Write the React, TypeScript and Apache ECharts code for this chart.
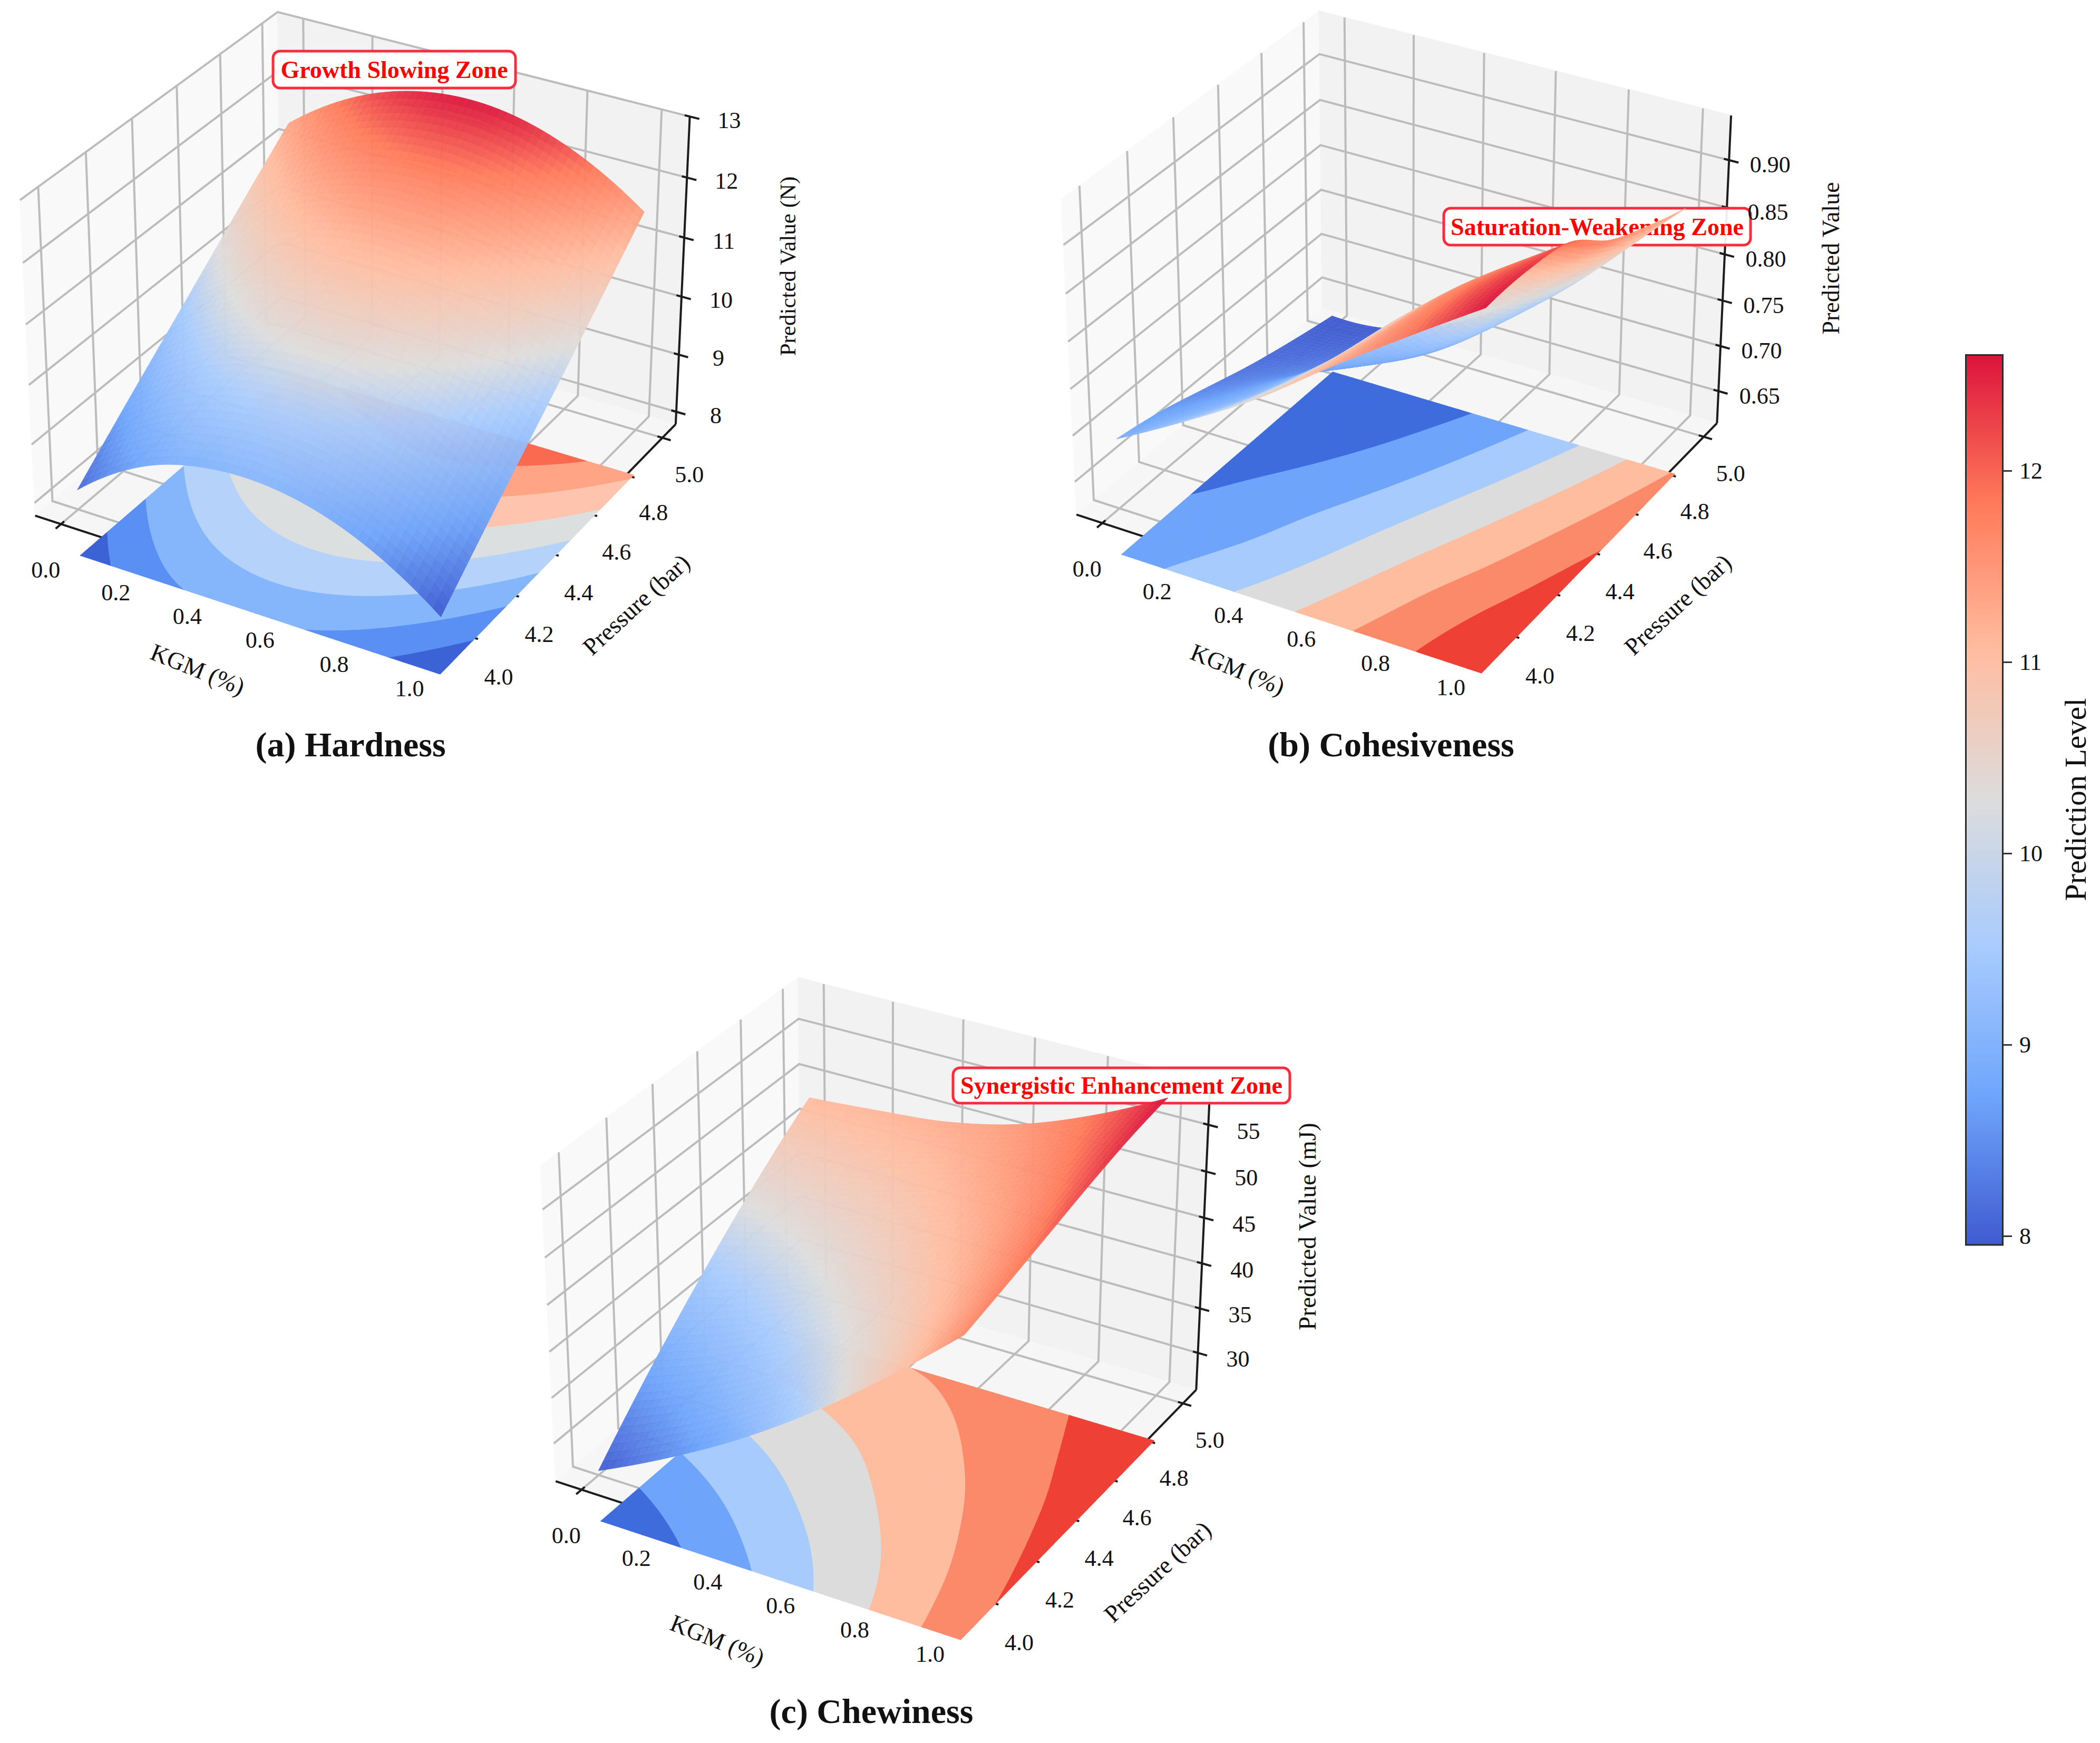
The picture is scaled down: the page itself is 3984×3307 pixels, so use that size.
import React, { useEffect, useRef } from "react";
import * as echarts from "echarts";

const kgmTicks = [0, 0.2, 0.4, 0.6, 0.8, 1];
const pressureTicks = [4, 4.2, 4.4, 4.6, 4.8, 5];
const colorbarTicks = [8, 9, 10, 11, 12];
const colorbarRange = [7.955, 12.61];
const hardnessTicks = [8, 9, 10, 11, 12, 13];
const cohesivenessTicks = [0.65, 0.7, 0.75, 0.8, 0.85, 0.9];
const chewinessTicks = [30, 35, 40, 45, 50, 55];

// rows: pressure 4.0 -> 5.0, columns: KGM 0 -> 1
const hardnessValues = [
  [8.12, 8.91, 9.22, 9.16, 8.74, 7.95],
  [8.8, 9.56, 9.89, 9.85, 9.44, 8.67],
  [9.46, 10.22, 10.57, 10.54, 10.15, 9.38],
  [10.12, 10.86, 11.22, 11.21, 10.83, 10.08],
  [10.78, 11.52, 11.89, 11.9, 11.53, 10.8],
  [11.42, 12.18, 12.56, 12.58, 12.23, 11.52],
];
const cohesivenessValues = [
  [0.69, 0.733, 0.78, 0.836, 0.889, 0.94],
  [0.68, 0.712, 0.765, 0.83, 0.895, 0.94],
  [0.665, 0.695, 0.746, 0.815, 0.875, 0.93],
  [0.65, 0.668, 0.7, 0.75, 0.825, 0.895],
  [0.638, 0.648, 0.672, 0.725, 0.79, 0.873],
  [0.628, 0.635, 0.668, 0.722, 0.784, 0.855],
];
const cohesivenessFloor = [
  [0.69, 0.733, 0.78, 0.836, 0.889, 0.94],
  [0.68, 0.71, 0.757, 0.815, 0.875, 0.93],
  [0.665, 0.693, 0.736, 0.793, 0.852, 0.915],
  [0.65, 0.672, 0.713, 0.769, 0.83, 0.895],
  [0.638, 0.652, 0.69, 0.745, 0.807, 0.875],
  [0.628, 0.635, 0.668, 0.722, 0.784, 0.855],
];
const cohesivenessTone = [
  [0.7, 0.75, 0.8, 0.855, 0.9, 0.94],
  [0.68, 0.72, 0.77, 0.83, 0.885, 0.93],
  [0.66, 0.69, 0.735, 0.79, 0.85, 0.91],
  [0.645, 0.665, 0.7, 0.75, 0.81, 0.89],
  [0.635, 0.645, 0.672, 0.715, 0.775, 0.87],
  [0.628, 0.632, 0.65, 0.69, 0.75, 0.855],
];
const chewinessValues = [
  [26.3, 30.2, 34.7, 40.0, 46.1, 52.8],
  [31.6, 34.8, 38.7, 43.0, 47.9, 54.0],
  [36.4, 39.0, 42.2, 45.7, 49.8, 55.3],
  [40.8, 42.7, 45.0, 47.9, 51.5, 56.6],
  [44.8, 46.0, 47.6, 49.9, 53.2, 57.7],
  [48.3, 48.9, 49.7, 51.5, 54.5, 58.4],
];

const hardnessBands = ["#3b63d6", "#5a8ff3", "#85b6fc", "#b5d3fa", "#dcdfdf", "#ffc4ad", "#ffa585", "#f96a50"];
const sevenBands = ["#3f6cdd", "#6ea5fb", "#a8cbfd", "#dcdcdc", "#ffbda0", "#fb8a6a", "#ee4035"];
const rampStops = ["#3f5bd0", "#6ea5fb", "#a8cbfd", "#dcdcdc", "#ffbda0", "#ff7a5a", "#dc143c"];
const barOffsets = [0, 1 / 6, 2 / 6, 3 / 6, 4 / 6, 5 / 6, 1];
const surfaceOffsets = [0, 0.19, 0.39, 0.5, 0.68, 0.87, 1];

const SERIF = "'Liberation Serif', 'Times New Roman', serif";
const SCALE = 7640;
const MARGIN = 0.065;
const FLOOR = -0.154;
const MESH = 50;

const panels: any[] = [
  {
    ax: 685.5, ay: 601, zMin: 7.78, zMax: 13, grid: hardnessValues, zTicks: hardnessTicks, zFmt: (v: number) => String(v),
    bands: hardnessBands, zOff: [75, 7],
    title: "(a) Hardness", titlePos: [665, 1412],
    note: "Growth Slowing Zone", noteBox: [518, 97, 978, 167],
    zName: "Predicted Value (N)", zNamePos: [1494, 505], zNameSize: 43, kgmPos: [375, 1270], presPos: [1207, 1147],
  },
  {
    ax: 2661, ay: 599, zMin: 0.614, zMax: 0.9465, grid: cohesivenessValues, floorGrid: cohesivenessFloor, toneGrid: cohesivenessTone,
    zTicks: cohesivenessTicks, zFmt: (v: number) => v.toFixed(2),
    bands: sevenBands, zOff: [78, 9],
    title: "(b) Cohesiveness", titlePos: [2639, 1412],
    note: "Saturation-Weakening Zone", noteBox: [2739, 395, 3321, 465],
    zName: "Predicted Value", zNamePos: [3473, 490], zNameSize: 46, kgmPos: [2348, 1270], presPos: [3183, 1147],
  },
  {
    ax: 1673, ay: 2433, zMin: 25.8, zMax: 59.5, grid: chewinessValues, zTicks: chewinessTicks, zFmt: (v: number) => String(v),
    bands: sevenBands, zOff: [76, 12],
    title: "(c) Chewiness", titlePos: [1653, 3246],
    note: "Synergistic Enhancement Zone", noteBox: [1808, 2026, 2447, 2093],
    zName: "Predicted Value (mJ)", zNamePos: [2480, 2327], zNameSize: 47, kgmPos: [1361, 3112], presPos: [2196, 2982],
  },
];

type Pt = [number, number, number];

function hexRgb(h: string) {
  return [parseInt(h.slice(1, 3), 16), parseInt(h.slice(3, 5), 16), parseInt(h.slice(5, 7), 16)];
}
function ramp(t0: number) {
  const t = Math.max(0, Math.min(1, t0));
  let i = 0;
  while (i < surfaceOffsets.length - 2 && t > surfaceOffsets[i + 1]) i++;
  const a = hexRgb(rampStops[i]);
  const b = hexRgb(rampStops[i + 1]);
  const f = (t - surfaceOffsets[i]) / (surfaceOffsets[i + 1] - surfaceOffsets[i]);
  return `rgb(${[0, 1, 2].map((k) => Math.round(a[k] + (b[k] - a[k]) * f)).join(",")})`;
}

function project(p: any, q: Pt): [number, number] {
  const dx = 1.19 * (q[0] - 0.5);
  const dy = 1.19 * (q[1] - 0.5);
  const dz = 0.893 * (q[2] - 0.5);
  const X = 0.866 * dx + 0.5 * dy;
  const Y = -0.25 * dx + 0.433 * dy + 0.866 * dz;
  const d = 10 - (0.433 * dx - 0.75 * dy + 0.5 * dz);
  return [p.ax + (SCALE * X) / d, p.ay - (SCALE * Y) / d];
}
const boxX = (kgm: number) => MARGIN + kgm * (1 - 2 * MARGIN);
const boxY = (bar: number) => MARGIN + (bar - 4) * (1 - 2 * MARGIN);
const boxZ = (p: any, v: number) => (v - p.zMin) / (p.zMax - p.zMin);

// Catmull-Rom drawing spline through the tables
function spline(a: number[], u: number) {
  const n = a.length;
  const at = (k: number) =>
    k < 0 ? 3 * a[0] - 3 * a[1] + a[2] : k >= n ? 3 * a[n - 1] - 3 * a[n - 2] + a[n - 3] : a[k];
  const i = Math.min(n - 2, Math.floor(u));
  const t = u - i;
  const p0 = at(i - 1), p1 = at(i), p2 = at(i + 1), p3 = at(i + 2);
  return 0.5 * (2 * p1 + (p2 - p0) * t + (2 * p0 - 5 * p1 + 4 * p2 - p3) * t * t + (3 * p1 - p0 - 3 * p2 + p3) * t * t * t);
}
function meshOf(grid: number[][]) {
  const out: number[][] = [];
  for (let j = 0; j <= MESH; j++) {
    const v = (j / MESH) * 5;
    const row: number[] = [];
    for (let i = 0; i <= MESH; i++) {
      const u = (i / MESH) * 5;
      row.push(spline(grid.map((r) => spline(r, u)), v));
    }
    out.push(row);
  }
  return out;
}
function rangeOf(S: number[][]) {
  let lo = Infinity, hi = -Infinity;
  S.forEach((r) => r.forEach((v) => { lo = Math.min(lo, v); hi = Math.max(hi, v); }));
  return [lo, hi];
}
function clip(poly: Pt[], level: number, above: boolean): Pt[] {
  const res: Pt[] = [];
  const inside = (q: Pt) => (above ? q[2] >= level : q[2] <= level);
  for (let k = 0; k < poly.length; k++) {
    const a = poly[k];
    const b = poly[(k + 1) % poly.length];
    if (inside(a)) res.push(a);
    if (inside(a) !== inside(b)) {
      const t = (level - a[2]) / (b[2] - a[2]);
      res.push([a[0] + (b[0] - a[0]) * t, a[1] + (b[1] - a[1]) * t, level]);
    }
  }
  return res;
}

function layer(z: number, items: any[], build: (it: any, c: (q: number[]) => number[]) => any) {
  return {
    type: "custom",
    coordinateSystem: "cartesian2d",
    xAxisIndex: 0,
    yAxisIndex: 0,
    z,
    silent: true,
    progressive: 0,
    clip: false,
    data: items.map((_, k) => [k, 0]),
    renderItem: (params: any, api: any) => build(items[params.dataIndex], (q) => api.coord(q)),
  };
}
function label(text: string, c: number[], size: number, rotation = 0, weight = "normal", fill = "#111") {
  return {
    type: "text",
    x: c[0],
    y: c[1],
    rotation,
    style: { text, fontFamily: SERIF, fontSize: size, fontWeight: weight, fill, align: "center", verticalAlign: "middle" },
  };
}

function panelSeries(p: any) {
  const S = meshOf(p.grid);
  const F = meshOf(p.floorGrid || p.grid);
  const T = meshOf(p.toneGrid || p.grid);
  const [flo, fhi] = rangeOf(F);
  const [lo, hi] = rangeOf(T);

  const panes = [
    { color: "#f9f9f9", pts: [[0, 0, 0], [0, 1, 0], [0, 1, 1], [0, 0, 1]] },
    { color: "#f2f2f2", pts: [[0, 1, 0], [1, 1, 0], [1, 1, 1], [0, 1, 1]] },
    { color: "#f6f6f6", pts: [[0, 0, 0], [1, 0, 0], [1, 1, 0], [0, 1, 0]] },
  ];
  const zNs = p.zTicks.map((v: number) => boxZ(p, v));
  const gridLines: Pt[][] = [
    ...kgmTicks.map((v): Pt[] => [[boxX(v), 0, 0], [boxX(v), 1, 0], [boxX(v), 1, 1]]),
    ...pressureTicks.map((v): Pt[] => [[1, boxY(v), 0], [0, boxY(v), 0], [0, boxY(v), 1]]),
    ...zNs.map((n: number): Pt[] => [[0, 0, n], [0, 1, n], [1, 1, n]]),
  ];
  const axisLines: Pt[][] = [
    [[0, 0, 0], [1, 0, 0]],
    [[1, 0, 0], [1, 1, 0]],
    [[1, 1, 0], [1, 1, 1]],
    ...kgmTicks.map((v): Pt[] => [[boxX(v), -0.02, 0], [boxX(v), 0.012, 0]]),
    ...pressureTicks.map((v): Pt[] => [[1.02, boxY(v), 0], [0.988, boxY(v), 0]]),
    ...zNs.map((n: number): Pt[] => [[1.022, 1, n], [0.988, 1, n]]),
  ];

  const n = p.bands.length;
  const levels = p.bands.map((_: string, k: number) => flo + ((fhi - flo) * k) / n);
  levels.push(fhi + 1e-6);
  const bandPolys: Pt[][][] = p.bands.map(() => []);
  for (let j = 0; j < MESH; j++) {
    for (let i = 0; i < MESH; i++) {
      const a: Pt = [i, j, F[j][i]], b: Pt = [i + 1, j, F[j][i + 1]], c: Pt = [i + 1, j + 1, F[j + 1][i + 1]], d: Pt = [i, j + 1, F[j + 1][i]];
      for (const tri of [[a, b, c], [a, c, d]] as Pt[][]) {
        for (let k = 0; k < n; k++) {
          const poly = clip(clip(tri, levels[k], true), levels[k + 1], false);
          if (poly.length > 2) bandPolys[k].push(poly);
        }
      }
    }
  }
  const floor = bandPolys.map((polys, k) => ({ color: p.bands[k], polys }));

  const cells: any[] = [];
  for (let j = 0; j < MESH; j++) {
    for (let i = 0; i < MESH; i++) {
      const v = (S[j][i] + S[j][i + 1] + S[j + 1][i] + S[j + 1][i + 1]) / 4;
      const tone = (T[j][i] + T[j][i + 1] + T[j + 1][i] + T[j + 1][i + 1]) / 4;
      const corners: Pt[] = ([[i, j], [i + 1, j], [i + 1, j + 1], [i, j + 1]] as number[][]).map(
        ([a, b]): Pt => [boxX(a / MESH), boxY(4 + b / MESH), boxZ(p, S[b][a])]
      );
      const cx = boxX((i + 0.5) / MESH), cy = boxY(4 + (j + 0.5) / MESH), cz = boxZ(p, v);
      const depth = 10 - (0.433 * 1.19 * (cx - 0.5) - 0.75 * 1.19 * (cy - 0.5) + 0.5 * 0.893 * (cz - 0.5));
      cells.push({ corners, depth, color: ramp((tone - lo) / (hi - lo)) });
    }
  }
  cells.sort((a, b) => b.depth - a.depth);

  const ticksText = [
    ...kgmTicks.map((v) => {
      const q = project(p, [boxX(v), 0, 0]);
      return { text: v.toFixed(1), pos: [q[0] - 29, q[1] + 87] };
    }),
    ...pressureTicks.map((v) => {
      const q = project(p, [1, boxY(v), 0]);
      return { text: v.toFixed(1), pos: [q[0] + 51 + 5 * (5 - v), q[1] + 70 + 8 * (5 - v)] };
    }),
    ...p.zTicks.map((v: number) => {
      const q = project(p, [1, 1, boxZ(p, v)]);
      return { text: p.zFmt(v), pos: [q[0] + p.zOff[0], q[1] + p.zOff[1]] };
    }),
  ];
  const names = [
    { text: p.zName, pos: p.zNamePos, size: p.zNameSize, rot: Math.PI / 2, weight: "normal" },
    { text: "KGM (%)", pos: p.kgmPos, size: 46, rot: -0.384, weight: "normal" },
    { text: "Pressure (bar)", pos: p.presPos, size: 46, rot: 0.745, weight: "normal" },
    { text: p.title, pos: p.titlePos, size: 66, rot: 0, weight: "bold" },
  ];
  const line = (pts: Pt[], c: any) => pts.map((q) => c(project(p, q)));

  return [
    layer(2, panes, (it, c) => ({ type: "polygon", shape: { points: line(it.pts, c) }, style: { fill: it.color, stroke: it.color, lineWidth: 2 } })),
    layer(3, gridLines, (it, c) => ({ type: "polyline", shape: { points: line(it, c) }, style: { fill: null, stroke: "#bcbcbc", lineWidth: 4 } })),
    layer(4, axisLines, (it, c) => ({ type: "line", shape: (() => { const [a, b] = line(it, c); return { x1: a[0], y1: a[1], x2: b[0], y2: b[1] }; })(), style: { stroke: "#1c1c1c", lineWidth: 4 } })),
    layer(5, floor, (it, c) => ({
      type: "path",
      shape: {
        pathData: it.polys
          .map((poly: Pt[]) =>
            "M" + poly.map((q) => {
              const xy = c(project(p, [boxX(q[0] / MESH), boxY(4 + q[1] / MESH), FLOOR]));
              return xy[0].toFixed(1) + " " + xy[1].toFixed(1);
            }).join("L") + "Z"
          ).join(""),
      },
      style: { fill: it.color, stroke: it.color, lineWidth: 1 },
    })),
    layer(6, [p.noteBox], (b, c) => {
      const a = c([b[0], b[1]]);
      const e = c([b[2], b[3]]);
      return {
        type: "group",
        children: [
          { type: "rect", shape: { x: a[0], y: a[1], width: e[0] - a[0], height: e[1] - a[1], r: 13 }, style: { fill: "rgba(255,255,255,0.92)", stroke: "#ff2b3d", lineWidth: 5 } },
          label(p.note, [(a[0] + e[0]) / 2, (a[1] + e[1]) / 2], 46, 0, "bold", "#ff0000"),
        ],
      };
    }),
    layer(7, cells, (it, c) => ({
      type: "polygon",
      shape: { points: line(it.corners, c) },
      style: { fill: it.color, stroke: it.color, lineWidth: 1, opacity: 0.95 },
    })),
    layer(8, ticksText, (it, c) => label(it.text, c(it.pos), 44)),
    layer(9, names, (it, c) => label(it.text, c(it.pos), it.size, it.rot, it.weight)),
  ];
}

export default function App() {
  const ref = useRef<HTMLDivElement>(null);
  useEffect(() => {
    document.body.style.margin = "0";
    const chart = echarts.init(ref.current!, undefined, { renderer: "svg" });
    const series: any[] = [];
    panels.forEach((p) => series.push(...panelSeries(p)));
    series.push({
      type: "bar",
      xAxisIndex: 1,
      yAxisIndex: 1,
      silent: true,
      barWidth: "100%",
      data: [colorbarRange[1]],
      itemStyle: {
        borderColor: "#2a2a2a",
        borderWidth: 3,
        color: {
          type: "linear", x: 0, y: 1, x2: 0, y2: 0,
          colorStops: rampStops.map((color, k) => ({ offset: barOffsets[k], color })),
        },
      },
    });
    chart.setOption({
      animation: false,
      backgroundColor: "#ffffff",
      grid: [
        { left: 0, right: 0, top: 0, bottom: 0 },
        { left: 3728, width: 73, top: 672, height: 1690 },
      ],
      xAxis: [
        { type: "value", min: 0, max: 3984, show: false, gridIndex: 0 },
        { type: "category", data: [""], show: false, gridIndex: 1 },
      ],
      yAxis: [
        { type: "value", min: 0, max: 3307, inverse: true, show: false, gridIndex: 0 },
        {
          type: "value",
          gridIndex: 1,
          position: "right",
          min: colorbarRange[0],
          max: colorbarRange[1],
          splitLine: { show: false },
          axisLine: { show: false },
          axisTick: { show: true, length: 16, customValues: colorbarTicks, lineStyle: { color: "#333", width: 3 } },
          axisLabel: { show: true, customValues: colorbarTicks, margin: 30, fontFamily: SERIF, fontSize: 44, color: "#111" },
          name: "Prediction Level",
          nameLocation: "middle",
          nameGap: 107,
          nameRotate: 90,
          nameTextStyle: { fontFamily: SERIF, fontSize: 58, color: "#111" },
        },
      ],
      series,
    });
    return () => chart.dispose();
  }, []);
  return <div ref={ref} style={{ position: "absolute", left: 0, top: 0, width: 3984, height: 3307 }} />;
}
